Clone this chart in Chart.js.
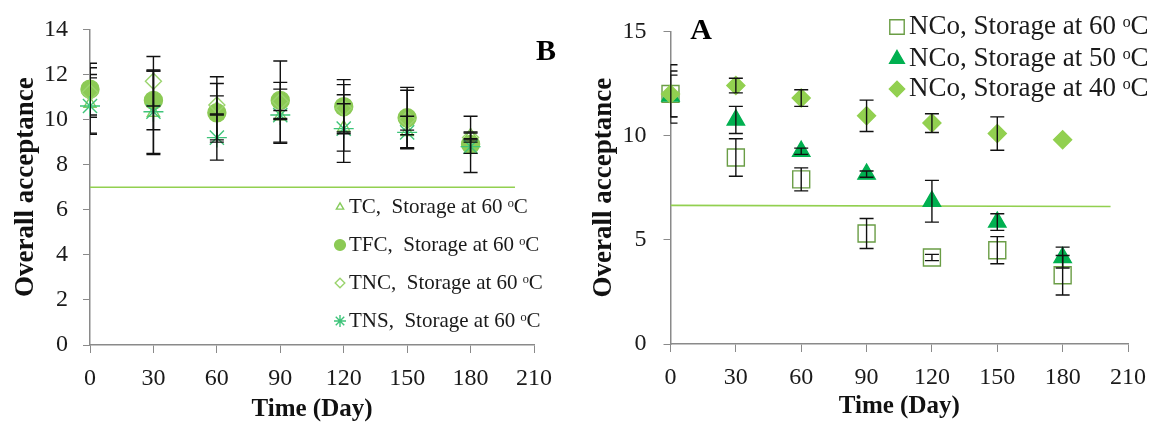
<!DOCTYPE html>
<html lang="en">
<head>
<meta charset="UTF-8">
<title>Overall acceptance during storage</title>
<script src="https://cdn.jsdelivr.net/npm/chart.js"></script>
<style>
  body { margin: 0; background: #fff; width: 1163px; height: 425px; overflow: hidden; position: relative; }
  canvas { position: absolute; top: 0; }
  #chartB { left: 0; }
  #chartA { left: 575px; }
</style>
</head>
<body>
<canvas id="chartB" width="575" height="425"></canvas>
<canvas id="chartA" width="588" height="425"></canvas>
<script>
// storage days
const days = [0, 30, 60, 90, 120, 150, 180];
const xTicks = [0, 30, 60, 90, 120, 150, 180, 210];

// panel B: samples stored at 60 C
const yTicksB = [0, 2, 4, 6, 8, 10, 12, 14];
const tcVals  = [10.7, 10.3, 10.5, 10.15, 9.65, 9.45, 9.3];
const tcErr   = [1.3, 1.85, 1.4, 1.2, 1.05, 0.7, 0.15];
const tfcVals = [11.35, 10.85, 10.3, 10.85, 10.57, 10.08, 8.9];
const tfcErr  = [1.15, 1.3, 1.3, 0.8, 1.2, 1.35, 1.25];
const tncVals = [11.2, 11.7, 10.65, 10.8, 10.5, 10.0, 9.2];
const tncErr  = [1.1, 1.1, 0.4, 1.8, 1.05, 1.3, 0.2];
const tnsVals = [10.6, 10.35, 9.2, 10.2, 9.6, 9.43, 8.8];
const tnsErr  = [1.25, 1.85, 1.0, 0.2, 1.5, 0.1, 0.3];
const limitBx = [0, 201];
const limitBy = [7, 7];

// panel A: NCo at three temperatures
const yTicksA = [0, 5, 10, 15];
const nco60Vals = [12.0, 8.95, 7.9, 5.3, 4.15, 4.5, 3.3];
const nco60Err  = [1.4, 0.9, 0.55, 0.72, 0.15, 0.65, 0.95];
const nco50Vals = [11.9, 10.75, 9.25, 8.15, 6.85, 5.85, 4.15];
const nco50Err  = [1.0, 0.65, 0.15, 0.15, 1.0, 0.4, 0.5];
const nco40Vals = [12.0, 12.4, 11.8, 10.95, 10.6, 10.1, 9.8];
const nco40Err  = [1.1, 0.35, 0.4, 0.75, 0.45, 0.8, 0];
const limitAx = [0, 202];
const limitAy = [6.65, 6.6];

const serif = "'Liberation Serif', 'Times New Roman', serif";

function pts(xs, ys) {
  return xs.map((x, i) => ({ x: x, y: ys[i] }));
}

const errorBars = {
  id: 'errorBars',
  afterDatasetsDraw(chart) {
    const { ctx, chartArea, scales: { x, y } } = chart;
    ctx.save();
    ctx.beginPath();
    ctx.rect(chartArea.left, 0, chartArea.right - chartArea.left, chart.height);
    ctx.clip();
    ctx.strokeStyle = '#111';
    ctx.lineWidth = 1.4;
    chart.data.datasets.forEach(ds => {
      if (!ds.errors) return;
      ds.data.forEach((p, i) => {
        const e = ds.errors[i];
        if (!e) return;
        const px = x.getPixelForValue(p.x);
        const top = y.getPixelForValue(p.y + e);
        const bot = y.getPixelForValue(p.y - e);
        ctx.beginPath();
        ctx.moveTo(px, top); ctx.lineTo(px, bot);
        ctx.moveTo(px - 7, top); ctx.lineTo(px + 7, top);
        ctx.moveTo(px - 7, bot); ctx.lineTo(px + 7, bot);
        ctx.stroke();
      });
    });
    ctx.restore();
  }
};

// legend drawn inside the plot, plus the panel letter
const panelLegend = {
  id: 'panelLegend',
  afterDraw(chart, args, opts) {
    const ctx = chart.ctx;
    ctx.save();
    ctx.textBaseline = 'middle';
    ctx.textAlign = 'left';
    ctx.font = opts.size + 'px ' + serif;
    let row = 0;
    chart.data.datasets.forEach(ds => {
      if (!ds.errors) return;
      const y = opts.ys[row++];
      ctx.fillStyle = ds.backgroundColor;
      ctx.strokeStyle = ds.borderColor;
      ctx.lineWidth = ds.borderWidth;
      Chart.helpers.drawPoint(ctx, {
        pointStyle: ds.pointStyle,
        radius: ds.pointRadius * opts.scale,
        rotation: 0,
        borderWidth: ds.borderWidth
      }, opts.markerX, y);
      ctx.fillStyle = '#1a1a1a';
      ctx.fillText(ds.label, opts.textX, y);
    });
    ctx.font = 'bold 30px ' + serif;
    ctx.textAlign = 'center';
    ctx.fillStyle = '#000';
    ctx.fillText(opts.letter, opts.letterX, opts.letterY);
    ctx.restore();
  }
};

function options(cfg) {
  return {
    responsive: false,
    animation: false,
    layout: { padding: { top: 23, right: cfg.padRight, left: 0, bottom: 0 } },
    plugins: {
      legend: { display: false },
      tooltip: { enabled: false },
      panelLegend: cfg.legend
    },
    scales: {
      x: {
        type: 'linear',
        min: xTicks[0],
        max: xTicks[xTicks.length - 1],
        ticks: { stepSize: 30, padding: 11, color: '#1a1a1a', font: { family: serif, size: 24 } },
        grid: { drawOnChartArea: false, drawTicks: true, tickLength: 8, color: '#8a8a8a' },
        border: { color: '#8a8a8a', width: 1.5 },
        title: { display: true, text: 'Time (Day)', color: '#111', padding: { top: 0, bottom: cfg.xTitlePad }, font: { family: serif, size: 25, weight: 'bold' } },
        afterFit: s => { s.height = cfg.xHeight; }
      },
      y: {
        min: cfg.yTicks[0],
        max: cfg.yTicks[cfg.yTicks.length - 1],
        ticks: { stepSize: cfg.yTicks[1] - cfg.yTicks[0], padding: cfg.yTickPad, color: '#1a1a1a', font: { family: serif, size: 24 } },
        grid: { drawOnChartArea: false, drawTicks: true, tickLength: 7, color: '#8a8a8a' },
        border: { color: '#8a8a8a', width: 1.5 },
        title: { display: true, text: 'Overall acceptance', color: '#111', padding: { top: cfg.yTitlePad, bottom: 0 }, font: { family: serif, size: 27, weight: 'bold' } },
        afterFit: s => { s.width = cfg.yWidth; }
      }
    }
  };
}

function series(label, xs, ys, errs, style, radius, fill, stroke, order) {
  return {
    label: label,
    data: pts(xs, ys),
    errors: errs,
    showLine: false,
    pointStyle: style,
    pointRadius: radius,
    backgroundColor: fill,
    borderColor: stroke,
    borderWidth: 1.4,
    order: order,
    clip: false
  };
}

function limitLine(xs, ys) {
  return {
    type: 'line',
    data: pts(xs, ys),
    borderColor: '#92d050',
    borderWidth: 1.6,
    pointRadius: 0,
    order: 10
  };
}

new Chart(document.getElementById('chartB'), {
  type: 'scatter',
  data: {
    datasets: [
      limitLine(limitBx, limitBy),
      series('TC,  Storage at 60 \u1D52C', days, tcVals, tcErr, 'triangle', 7, 'rgba(0,0,0,0)', '#86cc5c', 4),
      series('TFC,  Storage at 60 \u1D52C', days, tfcVals, tfcErr, 'circle', 9, '#8cca55', '#8cca55', 3),
      series('TNC,  Storage at 60 \u1D52C', days, tncVals, tncErr, 'rectRot', 8, 'rgba(0,0,0,0)', '#9bd46e', 2),
      series('TNS,  Storage at 60 \u1D52C', days, tnsVals, tnsErr, 'star', 10, 'rgba(0,0,0,0)', '#3ec47a', 1)
    ]
  },
  options: options({
    yTicks: yTicksB, padRight: 41, yWidth: 90, xHeight: 80, xTitlePad: 0, yTitlePad: 10, yTickPad: 15,
    legend: { markerX: 340, textX: 349, ys: [207, 245, 283, 321], size: 21, scale: 0.6, letter: 'B', letterX: 546, letterY: 52 }
  }),
  plugins: [errorBars, panelLegend]
});

new Chart(document.getElementById('chartA'), {
  type: 'scatter',
  data: {
    datasets: [
      limitLine(limitAx, limitAy),
      series('NCo, Storage at 60 \u1D52C', days, nco60Vals, nco60Err, 'rect', 12, 'rgba(0,0,0,0)', '#6a9d45', 3),
      series('NCo, Storage at 50 \u1D52C', days, nco50Vals, nco50Err, 'triangle', 10, '#00b050', '#00b050', 2),
      series('NCo, Storage at 40 \u1D52C', days, nco40Vals, nco40Err, 'rectRot', 9, '#92d050', '#92d050', 1)
    ]
  },
  options: options({
    yTicks: yTicksA, padRight: 35, yWidth: 95.5, xHeight: 81, xTitlePad: 3, yTitlePad: 13, yTickPad: 17,
    legend: { markerX: 322, textX: 334, ys: [27, 59, 89], size: 27, scale: 0.85, letter: 'A', letterX: 126, letterY: 31 }
  }),
  plugins: [errorBars, panelLegend]
});
</script>
</body>
</html>
